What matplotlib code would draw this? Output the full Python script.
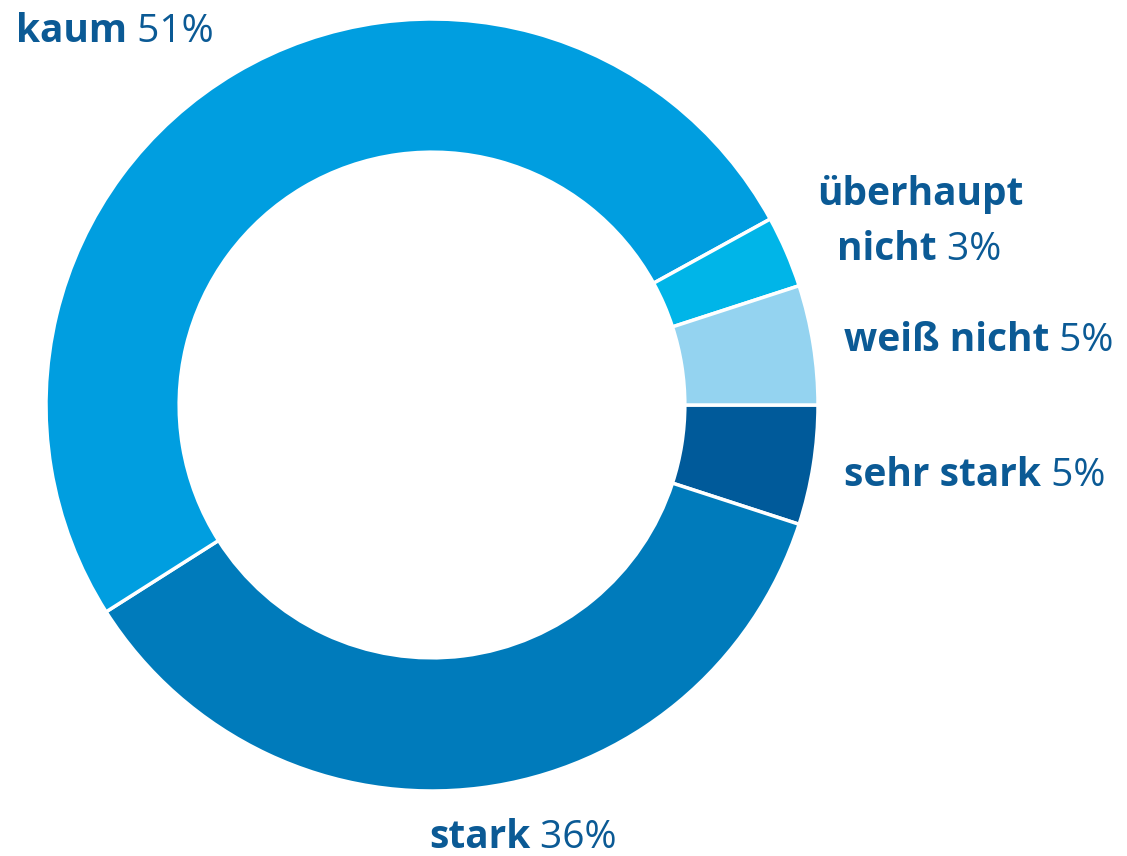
import matplotlib
matplotlib.use('Agg')
import matplotlib.pyplot as plt

# Daten
labels = ['sehr stark', 'stark', 'kaum', 'überhaupt\nnicht', 'weiß nicht']
values = [5, 36, 51, 3, 5]
colors = ['#005a9a', '#007bbb', '#009ee0', '#00b5e8', '#94d3f0']

TEXT_COLOR = '#0b5a95'
plt.rcParams['font.family'] = ['Open Sans', 'DejaVu Sans']

W, H = 1127, 856
fig = plt.figure(figsize=(W / 100, H / 100), dpi=100)
ax = fig.add_axes([0, 0, 1, 1])

ax.pie(values, colors=colors, startangle=0, counterclock=False,
       center=(432, H - 405), radius=386,
       wedgeprops=dict(width=386 * 0.345, edgecolor='white', linewidth=2.5))

# pie() setzt eigene Grenzen -> danach überschreiben
ax.set_xlim(0, W)
ax.set_ylim(0, H)
ax.set_aspect('equal')
ax.axis('off')

# Beschriftungen: (x, y-Pixel von oben, Grundlinie)
label_pos = {
    'kaum': (16, 42),
    'stark': (429, 848),
    'sehr stark': (844, 486),
    'weiß nicht': (844, 351),
    'überhaupt\nnicht': (817, 260),
}

FS = 28
for lab, val in zip(labels, values):
    x, y = label_pos[lab]
    lines = lab.split('\n')
    # mehrzeilig: erste Zeilen fett darüber
    if len(lines) > 1:
        ax.text(x, H - y + 55, lines[0], fontsize=FS, fontweight='bold',
                color=TEXT_COLOR, ha='left', va='baseline')
        x = x + 20
    t = ax.text(x, H - y, lines[-1], fontsize=FS, fontweight='bold',
                color=TEXT_COLOR, ha='left', va='baseline')
    ax.annotate(' %d%%' % val, xy=(1, 0), xycoords=t, fontsize=FS,
                fontweight='medium', color=TEXT_COLOR, ha='left', va='bottom')

fig.savefig('out.png', dpi=100)
